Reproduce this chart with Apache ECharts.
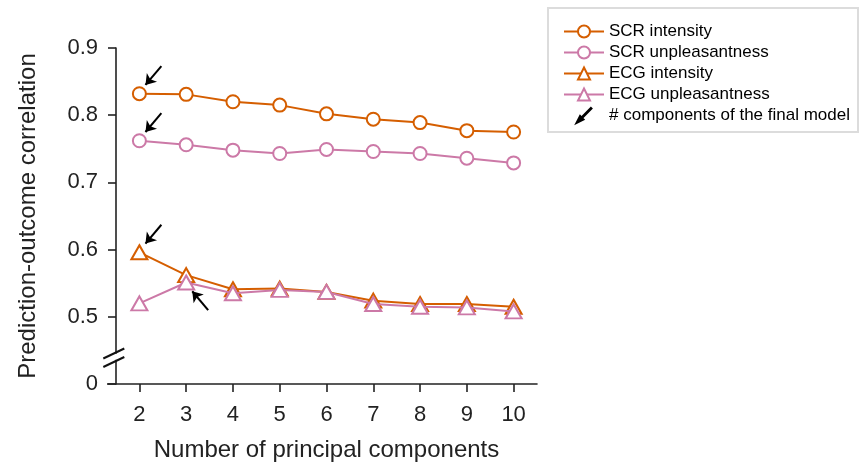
<!DOCTYPE html>
<html><head><meta charset="utf-8">
<script src="https://cdn.jsdelivr.net/npm/echarts@6/dist/echarts.min.js"></script>
<style>html,body{margin:0;padding:0;background:#fff}#c{width:863px;height:466px}</style>
</head><body><div id="c"></div>
<script>
// ---- data ----
var components = [2, 3, 4, 5, 6, 7, 8, 9, 10];
var scrIntensity      = [0.832, 0.831, 0.820, 0.815, 0.802, 0.794, 0.789, 0.777, 0.775];
var scrUnpleasantness = [0.762, 0.756, 0.748, 0.743, 0.749, 0.746, 0.743, 0.736, 0.729];
var ecgIntensity      = [0.596, 0.562, 0.541, 0.542, 0.537, 0.524, 0.519, 0.519, 0.515];
var ecgUnpleasantness = [0.520, 0.551, 0.535, 0.540, 0.537, 0.519, 0.515, 0.514, 0.508];
var seriesNames = ['SCR intensity', 'SCR unpleasantness', 'ECG intensity', 'ECG unpleasantness'];
var finalModel = [2, 2, 2, 3];            // # components of final model per series
var yTicks = [0.4, 0.5, 0.6, 0.7, 0.8, 0.9]; // 0.4 position shown as broken-axis "0"
var arrowName = '# components of the final model';

// ---- style ----
var ORANGE = '#D55E00', PINK = '#CC79A7', TXT = '#222';
var seriesValues = [scrIntensity, scrUnpleasantness, ecgIntensity, ecgUnpleasantness];
var seriesColors = [ORANGE, PINK, ORANGE, PINK];
var seriesSymbols = ['circle', 'circle', 'triangle', 'triangle'];
var seriesSizes = [13, 13, [16, 14], [16, 14]];
var arrowSide = [1, 1, 1, -1]; // 1: arrow from upper right, -1: from lower right

var chart = echarts.init(document.getElementById('c'));

var series = seriesNames.map(function (n, i) {
  return {
    name: n, type: 'line',
    data: components.map(function (c, j) { return [c, seriesValues[i][j]]; }),
    symbol: seriesSymbols[i], symbolSize: seriesSizes[i],
    color: seriesColors[i],
    itemStyle: { color: '#fff', borderColor: seriesColors[i], borderWidth: 2 },
    lineStyle: { color: seriesColors[i], width: 2 },
    emphasis: { disabled: true },
    z: 3 + i
  };
});

var arrowData = finalModel.map(function (k, i) {
  var v = seriesValues[i][components.indexOf(k)];
  var s = arrowSide[i];
  return { coords: [[k + 0.47, v + s * 0.041], [k + 0.13, v + s * 0.013]] };
});
series.push({
  name: arrowName, type: 'lines', coordinateSystem: 'cartesian2d',
  data: arrowData, color: '#000',
  lineStyle: { color: '#000', width: 2, opacity: 1 },
  symbol: ['none', 'arrow'], symbolSize: 10,
  z: 10
});

var legendData = seriesNames.map(function (n) { return { name: n }; });
legendData.push({ name: arrowName,
  icon: 'path://M14.4,0 L15,0.6 L5.6,10 L7,11.4 L0,15 L3.6,8 L5,9.4 Z',
  itemStyle: { color: '#000' } });

chart.setOption({
  animation: false,
  backgroundColor: '#fff',
  textStyle: { fontFamily: 'Liberation Sans, Arial, sans-serif' },
  grid: { left: 116, right: 326, top: 48, bottom: 82, containLabel: false, outerBoundsMode: 'none' },
  legend: {
    left: 548, top: 8, orient: 'vertical',
    padding: [15, 8, 8, 15],
    borderColor: '#dcdcdc', borderWidth: 2,
    itemWidth: 40, itemHeight: 15, itemGap: 4,
    lineStyle: { width: 2 },
    textStyle: { fontSize: 17, color: '#000', fontFamily: 'Liberation Sans, Arial, sans-serif' },
    data: legendData
  },
  xAxis: {
    type: 'value', min: 1.5, max: 10.5,
    name: 'Number of principal components', nameLocation: 'middle', nameGap: 54,
    nameTextStyle: { fontSize: 24, color: TXT },
    axisLine: { show: true, lineStyle: { color: TXT, width: 1.6 } },
    axisTick: { show: true, length: 8, lineStyle: { color: TXT, width: 1.6 }, customValues: components },
    axisLabel: { fontSize: 22, color: TXT, margin: 20, customValues: components },
    splitLine: { show: false }
  },
  yAxis: {
    type: 'value', min: yTicks[0], max: yTicks[yTicks.length - 1], interval: 0.1,
    name: 'Prediction-outcome correlation', nameLocation: 'middle', nameGap: 76,
    nameTextStyle: { fontSize: 24, color: TXT },
    axisLine: { show: true, lineStyle: { color: TXT, width: 1.6 } },
    axisTick: { show: true, length: 8, lineStyle: { color: TXT, width: 1.6 } },
    axisLabel: { fontSize: 22, color: TXT, margin: 18,
      formatter: function (v) { return v < yTicks[0] + 0.05 ? '0' : v.toFixed(1); } },
    splitLine: { show: false }
  },
  series: series
});

// broken-axis marker and x-axis stub to the left of the y axis
var p0 = chart.convertToPixel({ gridIndex: 0 }, [1.5, yTicks[0]]);
var ax = p0[0], ay = p0[1];
var yU = ay - 31.5, yL = ay - 23;
chart.setOption({
  graphic: [
    { type: 'line', shape: { x1: ax - 9, y1: ay, x2: ax, y2: ay }, style: { stroke: TXT, lineWidth: 1.6 }, z: 20 },
    { type: 'rect', shape: { x: ax - 2.5, y: yU + 1.2, width: 5, height: (yL - yU) - 2.4 }, style: { fill: '#fff' }, z: 20 },
    { type: 'line', shape: { x1: ax - 12.7, y1: yU + 6, x2: ax + 8.3, y2: yU - 4 }, style: { stroke: '#111', lineWidth: 2 }, z: 21 },
    { type: 'line', shape: { x1: ax - 12.7, y1: yL + 6, x2: ax + 8.3, y2: yL - 4 }, style: { stroke: '#111', lineWidth: 2 }, z: 21 }
  ]
});
</script>
</body></html>
